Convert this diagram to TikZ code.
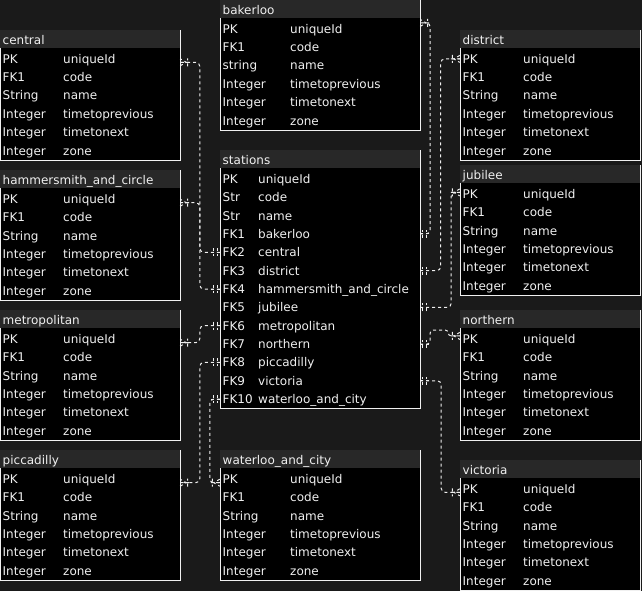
\documentclass[tikz,border=0pt]{standalone}
\usepackage{fontspec}
\setmainfont{DejaVu Sans}
\usetikzlibrary{calc}

\definecolor{canvas}{RGB}{26,26,26}
\definecolor{headfill}{RGB}{40,40,40}
\definecolor{ink}{RGB}{240,240,240}

% ER end markers: crow's foot with bar (one or many) and double bar (exactly one)
\pgfdeclarearrow{
  name = crowsfoot,
  setup code = {
    \pgfarrowssettipend{0pt}
    \pgfarrowssetlineend{0pt}
    \pgfarrowssetbackend{-10pt}
    \pgfarrowsupperhullpoint{0pt}{4pt}
    \pgfarrowsupperhullpoint{-10pt}{4pt}
  },
  drawing code = {
    \pgfpathmoveto{\pgfqpoint{0pt}{3.5pt}}
    \pgfpathlineto{\pgfqpoint{-6pt}{0pt}}
    \pgfpathlineto{\pgfqpoint{0pt}{-3.5pt}}
    \pgfpathmoveto{\pgfqpoint{0pt}{0pt}}
    \pgfpathlineto{\pgfqpoint{-10pt}{0pt}}
    \pgfpathmoveto{\pgfqpoint{-7.5pt}{4pt}}
    \pgfpathlineto{\pgfqpoint{-7.5pt}{-4pt}}
    \pgfusepathqstroke
  },
  parameters = {},
}
\pgfdeclarearrow{
  name = mandone,
  setup code = {
    \pgfarrowssettipend{0pt}
    \pgfarrowssetlineend{0pt}
    \pgfarrowssetbackend{-10pt}
    \pgfarrowsupperhullpoint{0pt}{4pt}
    \pgfarrowsupperhullpoint{-10pt}{4pt}
  },
  drawing code = {
    \pgfpathmoveto{\pgfqpoint{0pt}{0pt}}
    \pgfpathlineto{\pgfqpoint{-10pt}{0pt}}
    \pgfpathmoveto{\pgfqpoint{-2.5pt}{4pt}}
    \pgfpathlineto{\pgfqpoint{-2.5pt}{-4pt}}
    \pgfpathmoveto{\pgfqpoint{-6.5pt}{4pt}}
    \pgfpathlineto{\pgfqpoint{-6.5pt}{-4pt}}
    \pgfusepathqstroke
  },
  parameters = {},
}

\tikzset{
  conn/.style={draw=ink, line width=1pt, dash pattern=on 3pt off 3pt,
    rounded corners=4pt, arrows={mandone-crowsfoot}},
  cell/.style={anchor=base west, inner sep=0pt, text=ink,
    font=\fontsize{12pt}{14pt}\selectfont},
  rowbox/.style={inner sep=0pt, minimum height=18.35pt},
  frame/.style={draw=ink, line width=1pt},
}

% #1 id, #2 left, #3 top, #4 width, #5 second column offset,
% #6 title, #7 number of rows, #8 rows as key/field pairs
\newcommand\ertable[8]{%
  \fill[headfill] (#2,#3) rectangle ++(#4,18);
  \fill[black] (#2,#3+18) rectangle (#2+#4,#3+20+#7*18.35);
  \draw[frame] (#2,#3+18) -- (#2,#3+20+#7*18.35) -- (#2+#4,#3+20+#7*18.35) -- (#2+#4,#3);
  \node[cell] (#1-title) at (#2+2.5,#3+14.3) {#6};
  \foreach \k/\f [count=\i] in {#8} {
    \node[rowbox, minimum width=#4pt] (#1-r\i) at (#2+#4/2,#3+28.9+\i*18.35-18.35) {};
    \node[cell] (#1-k\i) at (#2+2.5,#3+33.3+\i*18.35-18.35) {\k};
    \node[cell] (#1-f\i) at (#2+#5,#3+33.3+\i*18.35-18.35) {\f};
  }
}
\newcommand\linefields{PK/uniqueId, FK1/code, String/name, Integer/timetoprevious, Integer/timetonext, Integer/zone}

\begin{document}
\begin{tikzpicture}[x=1pt, y=-1pt]
  \fill[canvas] (0,0) rectangle (642,591);
  \useasboundingbox (0,0) rectangle (642,591);

  \ertable{bakerloo}{220}{0}{200}{70}{bakerloo}{6}{PK/uniqueId, FK1/code, string/name, Integer/timetoprevious, Integer/timetonext, Integer/zone}
  \ertable{central}{0}{30}{180}{63}{central}{6}{PK/uniqueId, FK1/code, String/name, Integer/timetoprevious, Integer/timetonext, Integer/zone}
  \ertable{district}{460}{30}{180}{63}{district}{6}{PK/uniqueId, FK1/code, String/name, Integer/timetoprevious, Integer/timetonext, Integer/zone}
  \ertable{stations}{220}{150}{200}{38}{stations}{13}{PK/uniqueId, Str/code, Str/name, FK1/bakerloo, FK2/central, FK3/district, FK4/hammersmith\_and\_circle, FK5/jubilee, FK6/metropolitan, FK7/northern, FK8/piccadilly, FK9/victoria, FK10/waterloo\_and\_city}
  \ertable{hammersmith}{0}{170}{180}{63}{hammersmith\_and\_circle}{6}{PK/uniqueId, FK1/code, String/name, Integer/timetoprevious, Integer/timetonext, Integer/zone}
  \ertable{jubilee}{460}{165}{180}{63}{jubilee}{6}{PK/uniqueId, FK1/code, String/name, Integer/timetoprevious, Integer/timetonext, Integer/zone}
  \ertable{metropolitan}{0}{310}{180}{63}{metropolitan}{6}{PK/uniqueId, FK1/code, String/name, Integer/timetoprevious, Integer/timetonext, Integer/zone}
  \ertable{northern}{460}{310}{180}{63}{northern}{6}{PK/uniqueId, FK1/code, String/name, Integer/timetoprevious, Integer/timetonext, Integer/zone}
  \ertable{piccadilly}{0}{450}{180}{63}{piccadilly}{6}{PK/uniqueId, FK1/code, String/name, Integer/timetoprevious, Integer/timetonext, Integer/zone}
  \ertable{waterloo}{220}{450}{200}{70}{waterloo\_and\_city}{6}{PK/uniqueId, FK1/code, String/name, Integer/timetoprevious, Integer/timetonext, Integer/zone}
  \ertable{victoria}{460}{460}{180}{63}{victoria}{6}{PK/uniqueId, FK1/code, String/name, Integer/timetoprevious, Integer/timetonext, Integer/zone}

  % foreign keys of stations, right side
  \draw[conn] (stations-r4.east) -- ++(10,0) |- ($(bakerloo-r1.east)+(0,-6)$);
  \draw[conn] (stations-r6.east) -- ++(20.5,0) |- (district-r1.west);
  \draw[conn] (stations-r8.east) -- ++(31,0) |- ($(jubilee-r1.west)+(0,-1.5)$);
  \draw[conn, rounded corners=3pt] (stations-r10.east) -- ++(10,0) -- ++(0,-14) -- ++(18,0) |- ($(northern-r1.west)+(0,-3)$);
  \draw[conn] (stations-r12.east) -- ++(21,0) |- ($(victoria-r1.west)+(0,3.4)$);
  % foreign keys of stations, left side
  \draw[conn] (stations-r5.west) -- ++(-20,0) |- ($(central-r1.east)+(0,3.4)$);
  \draw[conn] (stations-r7.west) -- ++(-20,0) |- ($(hammersmith-r1.east)+(0,3.8)$);
  \draw[conn] (stations-r9.west) -- ++(-20,0) |- ($(metropolitan-r1.east)+(0,3.8)$);
  \draw[conn] (stations-r11.west) -- ++(-20,0) |- ($(piccadilly-r1.east)+(0,3.8)$);
  \draw[conn] (stations-r13.west) -- ++(-10,0) |- ($(waterloo-r1.west)+(0,3.8)$);
\end{tikzpicture}
\end{document}
